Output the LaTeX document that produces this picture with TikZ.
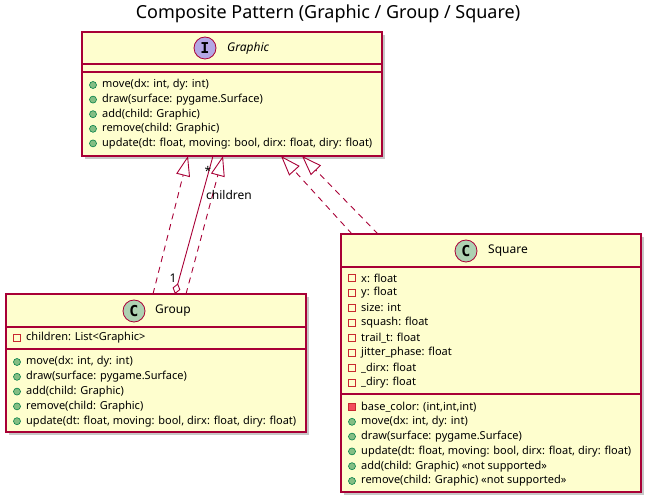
\documentclass[tikz,border=0pt]{standalone}
\usepackage{fontspec}
\setmainfont{Noto Sans}
\newfontfamily\badgefont{DejaVu Sans Mono}
\usetikzlibrary{arrows.meta,shadows}

\definecolor{umlfill}{HTML}{FEFECE}
\definecolor{umlline}{HTML}{A80036}
\definecolor{pubfill}{HTML}{84BE84}
\definecolor{publine}{HTML}{038048}
\definecolor{privline}{HTML}{C82930}
\definecolor{privfill}{HTML}{F24D5C}
\definecolor{ifacefill}{HTML}{B4A7E5}
\definecolor{classfill}{HTML}{ADD1B2}

\begin{document}
\begin{tikzpicture}[x=1pt,y=-1pt,
    classbox/.style = {draw=umlline, fill=umlfill, line width=1.1pt,
                       anchor=north west, inner sep=0pt, outer sep=0pt,
                       drop shadow={shadow xshift=3pt, shadow yshift=-3pt,
                                    fill=black, opacity=0.22}},
    sep/.style = {draw=umlline, line width=1.1pt},
    badge/.style = {circle, draw=umlline, line width=0.8pt, minimum size=22pt,
                    inner sep=0pt, font=\badgefont\fontsize{15}{15}\selectfont\bfseries},
    cname/.style = {anchor=west, inner sep=0pt, font=\fontsize{12}{14}\selectfont},
    member/.style = {anchor=west, inner sep=0pt, font=\fontsize{11}{13}\selectfont},
    pubicon/.style = {circle, fill=pubfill, draw=publine, line width=0.6pt,
                      minimum size=7pt, inner sep=0pt},
    privicon/.style = {rectangle, draw=privline, line width=0.8pt,
                       minimum size=7pt, inner sep=0pt},
    privmeth/.style = {privicon, fill=privfill},
    realize/.style = {draw=umlline, line width=0.9pt, dash pattern=on 6pt off 5pt,
                      -{Triangle[open, length=20pt, width=14pt]}},
    aggreg/.style = {draw=umlline, line width=0.9pt,
                     {Diamond[open, length=11pt, width=8pt]}-},
    mult/.style = {inner sep=0pt, font=\fontsize{12}{14}\selectfont}]
  \useasboundingbox (0,0) rectangle (651,502);
  % Title
  \node[font=\fontsize{18}{20}\selectfont] (title) at (328,14)
    {Composite Pattern (Graphic / Group / Square)};

  % Interface Graphic
  \node[classbox, minimum width=300pt, minimum height=124pt] (graphic) at (82,32) {};
  \draw[sep] ([yshift=-32pt]graphic.north west) -- ([yshift=-32pt]graphic.north east);
  \draw[sep] ([yshift=-40pt]graphic.north west) -- ([yshift=-40pt]graphic.north east);
  \node[badge, fill=ifacefill] (graphicI) at (205,48) {I};
  \node[cname, font=\fontsize{12}{14}\selectfont\itshape] (graphicN) at (227,48) {Graphic};
  \foreach \m [count=\i from 0] in {{move(dx: int, dy: int)},
      {draw(surface: pygame.Surface)}, {add(child: Graphic)},
      {remove(child: Graphic)},
      {update(dt: float, moving: bool, dirx: float, diry: float)}} {
    \node[pubicon] at (93,{85+14.6*\i}) {};
    \node[member] at (102,{85+14.6*\i}) {\m};
  }

  % Class Group
  \node[classbox, minimum width=300pt, minimum height=138pt] (group) at (6,294) {};
  \draw[sep] ([yshift=-33pt]group.north west) -- ([yshift=-33pt]group.north east);
  \draw[sep] ([yshift=-55pt]group.north west) -- ([yshift=-55pt]group.north east);
  \node[badge, fill=classfill] (groupC) at (134,311) {C};
  \node[cname] (groupN) at (155,311) {Group};
  \node[privicon] at (17,338) {};
  \node[member] at (26,338) {children: List<Graphic>};
  \foreach \m [count=\i from 0] in {{move(dx: int, dy: int)},
      {draw(surface: pygame.Surface)}, {add(child: Graphic)},
      {remove(child: Graphic)},
      {update(dt: float, moving: bool, dirx: float, diry: float)}} {
    \node[pubicon] at (17,{362+14.8*\i}) {};
    \node[member] at (26,{362+14.8*\i}) {\m};
  }

  % Class Square
  \node[classbox, minimum width=300pt, minimum height=258pt] (square) at (341,234) {};
  \draw[sep] ([yshift=-33pt]square.north west) -- ([yshift=-33pt]square.north east);
  \draw[sep] ([yshift=-160pt]square.north west) -- ([yshift=-160pt]square.north east);
  \node[badge, fill=classfill] (squareC) at (466,251) {C};
  \node[cname] (squareN) at (488,251) {Square};
  \foreach \m [count=\i from 0] in {{x: float}, {y: float}, {size: int},
      {squash: float}, {trail\_t: float}, {jitter\_phase: float},
      {\_dirx: float}, {\_diry: float}} {
    \node[privicon] at (352,{278+15*\i}) {};
    \node[member] at (361,{278+15*\i}) {\m};
  }
  \node[privmeth] at (352,407) {};
  \node[member] at (361,407) {base\_color: (int,int,int)};
  \foreach \m [count=\i from 1] in {{move(dx: int, dy: int)},
      {draw(surface: pygame.Surface)},
      {update(dt: float, moving: bool, dirx: float, diry: float)},
      {add(child: Graphic) «not supported»},
      {remove(child: Graphic) «not supported»}} {
    \node[pubicon] at (352,{407+14.8*\i}) {};
    \node[member] at (361,{407+14.8*\i}) {\m};
  }

  % Realizations and aggregation
  \draw[realize] ([xshift=147pt]group.north west) -- ([xshift=106pt]graphic.south west);
  \draw[realize] ([xshift=180pt]group.north west) -- ([xshift=141pt]graphic.south west);
  \draw[aggreg] ([xshift=169pt]group.north west) -- ([xshift=131pt]graphic.south west);
  \draw[realize] ([xshift=11pt]square.north west) -- ([xshift=199pt]graphic.south west);
  \draw[realize] ([xshift=37pt]square.north west) -- ([xshift=220pt]graphic.south west);
  \node[mult] (many) at (208,171) {*};
  \node[mult, anchor=west] (role) at (206,195) {children};
  \node[mult] (one) at (173,278) {1};
\end{tikzpicture}
\end{document}
